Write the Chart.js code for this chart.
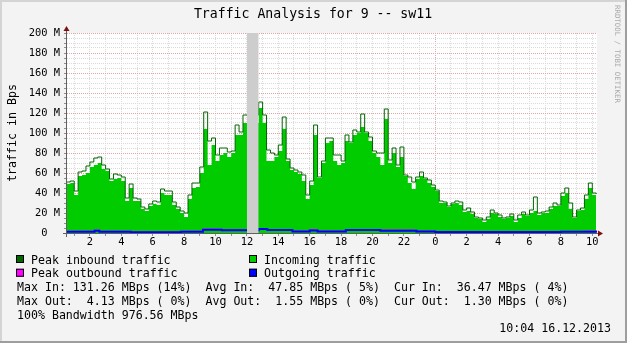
<!DOCTYPE html>
<html>
<head>
<meta charset="utf-8">
<script src="https://cdn.jsdelivr.net/npm/chart.js@4.4.1/dist/chart.umd.min.js"></script>
<style>
  html, body { margin: 0; padding: 0; background: #f3f3f3; }
</style>
</head>
<body>
<canvas id="chart1" width="627" height="343"></canvas>
<script>
// time axis: hours since midnight of the first day (24 = next midnight)
const startHour = 0.5;
const stepHour = 0.25;
const xMin = 0.541;
const xMax = 34.3;
const unknownSpan = [12.0, 12.75];

// incoming (average) and peak inbound, MBps, one value per 15 min
const incoming = [
  49, 50, 38, 57, 58, 60, 66, 68, 70, 64, 62, 52, 54, 55, 52, 32,
  45, 32, 32, 24, 22, 27, 29, 28, 40, 38, 38, 28, 24, 20, 16, 34,
  45, 46, 60, 104, 68, 88, 72, 78, 80, 76, 80, 98, 98, 110, null, null,
  null, 125, 110, 72, 72, 76, 82, 104, 72, 63, 61, 59, 52, 34, 48, 98,
  55, 70, 90, 92, 72, 68, 70, 92, 90, 98, 100, 106, 100, 92, 80, 76,
  68, 114, 70, 80, 66, 76, 57, 50, 44, 54, 57, 54, 50, 46, 42, 30,
  30, 26, 29, 30, 28, 21, 22, 19, 15, 14, 11, 14, 20, 19, 16, 14,
  15, 17, 11, 15, 19, 17, 20, 22, 18, 20, 20, 24, 27, 27, 37, 40,
  24, 15, 22, 23, 34, 45, 38, 37
];
const peakIn = [
  51, 52, 42, 61, 62, 67, 71, 75, 76, 68, 64, 54, 59, 58, 56, 35,
  49, 35, 34, 26, 24, 29, 32, 31, 44, 42, 42, 31, 26, 22, 20, 38,
  50, 50, 66, 121, 92, 95, 78, 85, 85, 81, 82, 108, 101, 118, null, null,
  null, 131, 118, 83, 80, 78, 88, 116, 74, 65, 63, 61, 58, 38, 52, 108,
  56, 72, 95, 95, 78, 78, 72, 98, 91, 103, 101, 119, 101, 96, 82, 80,
  80, 124, 73, 85, 68, 86, 58, 56, 51, 56, 61, 55, 53, 48, 43, 32,
  31, 27, 30, 32, 31, 23, 25, 21, 16, 15, 13, 16, 23, 20, 18, 15,
  16, 19, 13, 18, 21, 18, 23, 36, 20, 21, 22, 26, 30, 28, 40, 45,
  30, 16, 23, 25, 38, 50, 40, 39
];

// outgoing traffic, MBps, at the hours where it changes
const outHours = [0.5, 2.3, 2.6, 4.6, 7.8, 9.2, 10.4, 12.0, 12.75, 13.3, 14.9, 16.0, 16.5, 18.3, 20.5, 22.8, 24.0, 26.0, 28.0, 30.0, 32.0, 33.5, 34.3];
const outgoing = [1.3, 2.2, 1.3, 0.8, 1.3, 3.2, 2.7, null, 4.0, 3.0, 1.4, 2.5, 1.4, 3.0, 2.3, 1.5, 0.9, 1.0, 1.1, 1.0, 1.2, 1.3, 1.3];
const peakOut = [1.8, 3.0, 1.8, 1.2, 1.8, 4.0, 3.3, null, 4.13, 3.5, 2.0, 3.5, 2.0, 3.5, 3.0, 2.0, 1.4, 1.4, 1.5, 1.4, 1.6, 2.0, 2.0];

const hourTicks = [];
for (let h = 1; h <= 34; h++) hourTicks.push(h);
const yTicks = [];
for (let v = 0; v <= 200; v += 5) yTicks.push(v);

const legendItems = [
  ["Peak inbound traffic", "#006600"], ["Incoming traffic", "#00cc00"],
  ["Peak outbound traffic", "#ff00ff"], ["Outgoing traffic", "#0000ff"]
];
const statLines = [
  "Max In: 131.26 MBps (14%)  Avg In:  47.85 MBps ( 5%)  Cur In:  36.47 MBps ( 4%)",
  "Max Out:  4.13 MBps ( 0%)  Avg Out:  1.55 MBps ( 0%)  Cur Out:  1.30 MBps ( 0%)",
  "100% Bandwidth 976.56 MBps"
];
const stamp = "10:04 16.12.2013";

const MONO = '"DejaVu Sans Mono", monospace';
const GRID = "#dadada";
const MGRID = "#e2a6a6";

const hours = incoming.map((_, i) => startHour + i * stepHour);
const pts = (xs, ys) => xs.map((x, i) => ({ x: x, y: ys[i] }));

const rrdFrame = {
  id: "rrdFrame",
  beforeDraw(chart) {
    const c = chart.ctx, a = chart.chartArea, w = chart.width, h = chart.height;
    c.save();
    c.fillStyle = "#f3f3f3";
    c.fillRect(0, 0, w, h);
    c.fillStyle = "#d4d4d4";
    c.fillRect(0, 0, w, 2);
    c.fillRect(0, 0, 2, h);
    c.fillStyle = "#9e9e9e";
    c.fillRect(w - 2, 0, 2, h);
    c.fillRect(0, h - 2, w, 2);
    c.fillStyle = "#ffffff";
    c.fillRect(a.left, a.top, a.right - a.left, a.bottom - a.top);
    c.restore();
  },
  afterDraw(chart) {
    const c = chart.ctx, a = chart.chartArea;
    c.save();
    // axes
    c.strokeStyle = "#606060";
    c.lineWidth = 1;
    c.beginPath();
    c.moveTo(a.left - 0.5, a.bottom + 4);
    c.lineTo(a.left - 0.5, a.top - 3);
    c.moveTo(a.left - 4, a.bottom + 0.5);
    c.lineTo(a.right + 2, a.bottom + 0.5);
    c.stroke();
    c.fillStyle = "#801010";
    c.beginPath();
    c.moveTo(a.left - 0.5, a.top - 7);
    c.lineTo(a.left - 3.5, a.top - 2);
    c.lineTo(a.left + 2.5, a.top - 2);
    c.closePath();
    c.fill();
    c.beginPath();
    c.moveTo(a.right + 6, a.bottom + 0.5);
    c.lineTo(a.right + 1, a.bottom - 2.5);
    c.lineTo(a.right + 1, a.bottom + 3.5);
    c.closePath();
    c.fill();

    // title
    c.fillStyle = "#000";
    c.font = "13.2px " + MONO;
    c.textAlign = "center";
    c.textBaseline = "alphabetic";
    c.fillText("Traffic Analysis for 9 -- sw11", 313, 18);

    // y axis title
    c.save();
    c.translate(15.5, 133);
    c.rotate(-Math.PI / 2);
    c.font = "11.6px " + MONO;
    c.fillText("traffic in Bps", 0, 0);
    c.restore();

    // watermark
    c.save();
    c.translate(615, 5);
    c.rotate(Math.PI / 2);
    c.font = "7.4px " + MONO;
    c.fillStyle = "#aaaaaa";
    c.textAlign = "left";
    c.fillText("RRDTOOL / TOBI OETIKER", 0, 0);
    c.restore();

    // legend
    c.font = "11.6px " + MONO;
    c.textAlign = "left";
    const base = 263.6, lh = 13.75;
    legendItems.forEach((it, i) => {
      const row = Math.floor(i / 2), col = i % 2;
      const bx = col ? 249 : 16;
      const by = base + row * lh;
      c.fillStyle = it[1];
      c.fillRect(bx, by - 8.6, 8, 8);
      c.strokeStyle = "#000";
      c.strokeRect(bx + 0.5, by - 8.1, 7, 7);
      c.fillStyle = "#000";
      c.fillText(it[0], bx + 15, by);
    });
    statLines.forEach((s, i) => c.fillText(s, 17, base + (i + 2) * lh));
    c.textAlign = "right";
    c.fillText(stamp, 611, base + 5 * lh);
    c.restore();
  }
};

new Chart(document.getElementById("chart1").getContext("2d"), {
  type: "line",
  data: {
    datasets: [
      {
        label: "unknown",
        data: pts(unknownSpan, [200, 200]),
        backgroundColor: "#cdcdcd",
        borderWidth: 0,
        fill: "origin",
        order: 0
      },
      {
        label: "Outgoing traffic",
        data: pts(outHours, outgoing),
        borderColor: "#0000ff",
        borderWidth: 2,
        stepped: "before",
        order: 1
      },
      {
        label: "Peak outbound traffic",
        data: pts(outHours, peakOut),
        borderColor: "#ff00ff",
        borderWidth: 1,
        stepped: "before",
        order: 2
      },
      {
        label: "Peak inbound traffic",
        data: pts(hours, peakIn),
        borderColor: "#006600",
        borderWidth: 1,
        stepped: "before",
        order: 3
      },
      {
        label: "Incoming traffic",
        data: pts(hours, incoming),
        backgroundColor: "#00cc00",
        borderWidth: 0,
        fill: "origin",
        stepped: "before",
        order: 4
      }
    ]
  },
  options: {
    responsive: false,
    animation: false,
    spanGaps: true,
    elements: { point: { radius: 0 }, line: { tension: 0 } },
    layout: { padding: { left: 0, right: 30, top: 33, bottom: 90 } },
    plugins: {
      legend: { display: false },
      title: { display: false },
      tooltip: { enabled: false }
    },
    scales: {
      x: {
        type: "linear",
        min: xMin,
        max: xMax,
        afterFit: s => { s.height = 20; },
        afterBuildTicks: s => { s.ticks = hourTicks.map(v => ({ value: v })); },
        ticks: {
          autoSkip: false,
          maxRotation: 0,
          padding: 0,
          color: "#000",
          font: { family: MONO, size: 10.4 },
          callback: v => (v % 2 === 0 ? String(v % 24) : "")
        },
        grid: {
          color: ctx => (ctx.tick && ctx.tick.value === 24 ? MGRID : GRID),
          tickColor: ctx => (ctx.tick && ctx.tick.value === 24 ? "#c06060" : "#909090"),
          tickLength: 3,
          lineWidth: 1
        },
        border: { display: false, dash: [1, 1] }
      },
      y: {
        min: 0,
        max: 200,
        afterFit: s => { s.width = 67; },
        afterBuildTicks: s => { s.ticks = yTicks.map(v => ({ value: v })); },
        ticks: {
          autoSkip: false,
          padding: 4,
          color: "#000",
          font: { family: MONO, size: 10.4 },
          callback: v => (v % 20 ? "" : (v === 0 ? "0  " : v + " M"))
        },
        grid: {
          color: ctx => (ctx.tick && ctx.tick.value % 20 === 0 ? MGRID : GRID),
          tickColor: "#909090",
          tickLength: 3,
          lineWidth: 1
        },
        border: { display: false, dash: [1, 1] }
      }
    }
  },
  plugins: [rrdFrame]
});
</script>
</body>
</html>
